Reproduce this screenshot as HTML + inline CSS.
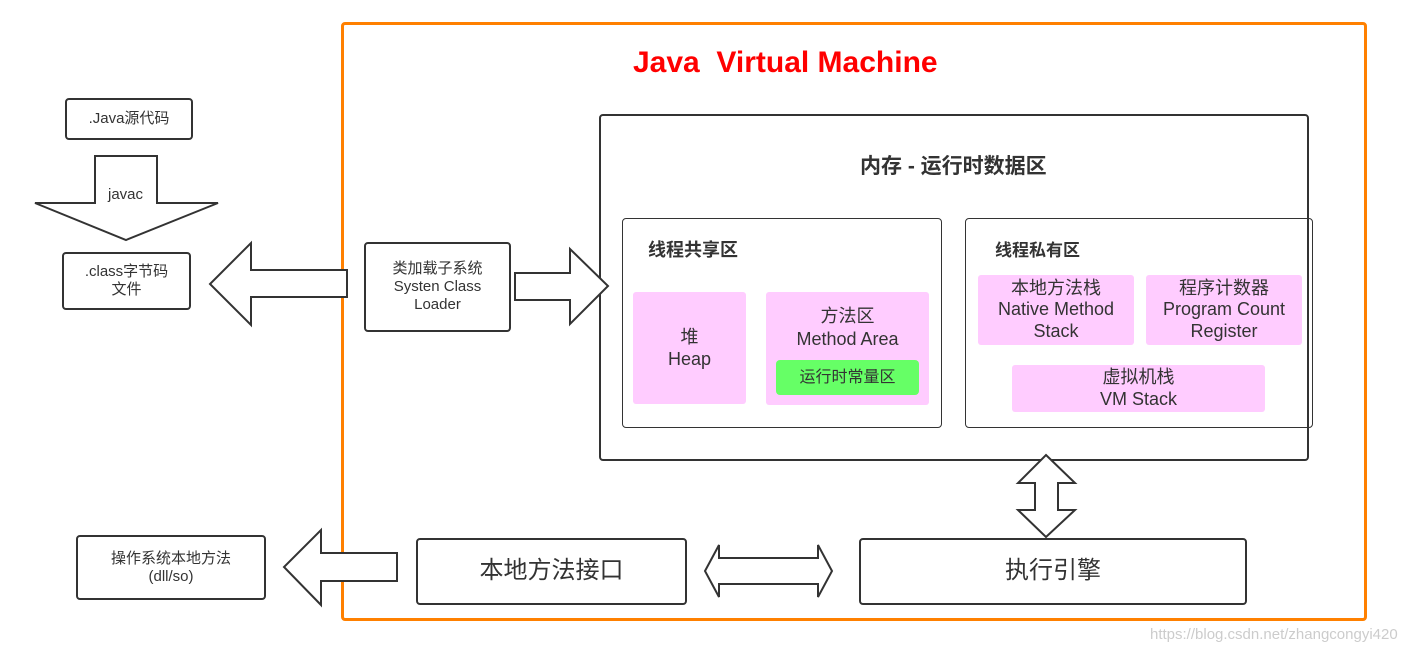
<!DOCTYPE html>
<html><head><meta charset="utf-8"><style>
body{margin:0;width:1413px;height:653px;background:#fff;position:relative;overflow:hidden;font-family:"Liberation Sans","Noto Sans CJK SC",sans-serif;color:#333}
.b{position:absolute;box-sizing:border-box;border:2px solid #333;border-radius:4px;display:flex;align-items:center;justify-content:center;text-align:center;line-height:1.2}
.p{position:absolute;box-sizing:border-box;background:#ffccff;border-radius:3px;display:flex;align-items:center;justify-content:center;text-align:center;line-height:1.25;font-size:18px}
.t{position:absolute;font-weight:bold;white-space:nowrap}
</style></head><body>
<div style="position:absolute;left:341px;top:22px;width:1026px;height:599px;box-sizing:border-box;border:3px solid #ff8000;border-radius:4px"></div>
<div class="t" style="left:633px;top:46px;font-size:30px;color:#ff0000">Java&nbsp; Virtual Machine</div>
<div class="b" style="left:599px;top:114px;width:710px;height:347px"></div>
<div class="t" style="left:860px;top:150px;font-size:21px">内存 - 运行时数据区</div>
<div class="b" style="left:622px;top:218px;width:320px;height:210px;border-width:1px"></div>
<div class="t" style="left:648px;top:236px;font-size:18px">线程共享区</div>
<div class="p" style="left:633px;top:292px;width:113px;height:112px">堆<br>Heap</div>
<div class="p" style="left:766px;top:292px;width:163px;height:113px;align-items:flex-start;padding-top:13px">方法区<br>Method Area</div>
<div class="p" style="left:776px;top:360px;width:143px;height:35px;background:#66ff66;font-size:16px;border-radius:4px">运行时常量区</div>
<div class="b" style="left:965px;top:218px;width:348px;height:210px;border-width:1px"></div>
<div class="t" style="left:995px;top:236px;font-size:17px">线程私有区</div>
<div class="p" style="left:978px;top:275px;width:156px;height:70px;line-height:1.2">本地方法栈<br>Native Method<br>Stack</div>
<div class="p" style="left:1146px;top:275px;width:156px;height:70px;line-height:1.2">程序计数器<br>Program Count<br>Register</div>
<div class="p" style="left:1012px;top:365px;width:253px;height:47px;line-height:1.2">虚拟机栈<br>VM Stack</div>
<div class="b" style="left:65px;top:98px;width:128px;height:42px;font-size:15px">.Java源代码</div>
<div class="b" style="left:62px;top:252px;width:129px;height:58px;font-size:15px">.class字节码<br>文件</div>
<div class="b" style="left:364px;top:242px;width:147px;height:90px;font-size:15px">类加载子系统<br>Systen Class<br>Loader</div>
<div class="b" style="left:76px;top:535px;width:190px;height:65px;font-size:15px">操作系统本地方法<br>(dll/so)</div>
<div class="b" style="left:416px;top:538px;width:271px;height:67px;font-size:24px">本地方法接口</div>
<div class="b" style="left:859px;top:538px;width:388px;height:67px;font-size:24px">执行引擎</div>
<svg width="1413" height="653" style="position:absolute;left:0;top:0" fill="#fff" stroke="#333" stroke-width="2" stroke-linejoin="miter">
<polygon points="95,156 157,156 157,203 218,203 126,240 35,203 95,203"/>
<polygon points="347,270 251,270 251,243 210,284 251,325 251,297 347,297"/>
<polygon points="515,273 570,273 570,249 608,286 570,324 570,300 515,300"/>
<polygon points="397,553 321,553 321,530 284,567 321,605 321,581 397,581"/>
<polygon points="705,571 719,545 719,558 818,558 818,545 832,571 818,597 818,584 719,584 719,597"/>
<polygon points="1046,455 1075,483 1058,483 1058,510 1075,510 1046,537 1018,510 1035,510 1035,483 1018,483"/>
</svg>
<div style="position:absolute;left:108px;top:186px;font-size:15px">javac</div>
<div style="position:absolute;left:1150px;top:626px;font-size:15px;color:#ccc">https://blog.csdn.net/zhangcongyi420</div>
</body></html>
